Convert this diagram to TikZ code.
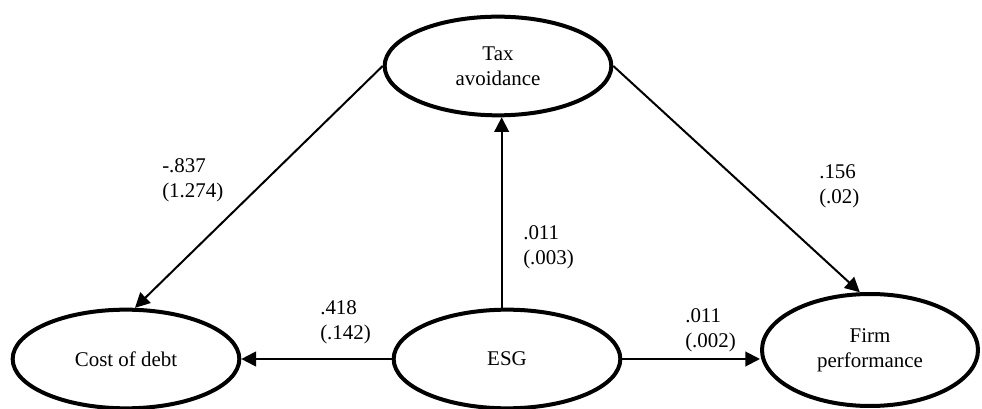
\documentclass[tikz,border=0pt]{standalone}
\usepackage{fontspec}
\setmainfont{Liberation Serif}
\usetikzlibrary{arrows.meta,shapes.geometric}

\begin{document}
\begin{tikzpicture}[
  x=0.75pt, y=-0.75pt,
  construct/.style={ellipse, draw, line width=3pt, inner sep=0pt,
    minimum width=170pt, minimum height=74pt, align=center,
    font=\fontsize{15.7pt}{18.5pt}\selectfont},
  path line/.style={line width=1.5pt, -{Triangle[length=11pt,width=11pt]}},
  coef/.style={anchor=west, inner sep=0pt, align=left,
    font=\fontsize{15.7pt}{18.5pt}\selectfont}
  ]
  \useasboundingbox (0,0) rectangle (982,409);

  \node[construct] (tax) at (498,66) {Tax\\avoidance};
  \node[construct] (debt) at (126,359) {Cost of debt};
  \node[construct] (esg) at (507,359) {ESG};
  \node[construct, minimum width=162pt, minimum height=84pt] (firm) at (870,350) {Firm\\performance};

  \draw[path line] (tax.west) -- (debt.80);
  \draw[path line] (tax.east) -- (firm.100);
  \draw[path line] ([xshift=-4pt]esg.north) -- ([xshift=-4pt]esg.north |- tax.south);
  \draw[path line] (esg.west) -- (debt.east);
  \draw[path line] (esg.east) -- (esg.east -| firm.west);

  \node[coef] (c837) at (162,180) {-.837\\(1.274)};
  \node[coef] (c156) at (819,186) {.156\\(.02)};
  \node[coef] (c011a) at (523,247) {.011\\(.003)};
  \node[coef] (c418) at (320,322) {.418\\(.142)};
  \node[coef] (c011b) at (685,330) {.011\\(.002)};
\end{tikzpicture}
\end{document}
